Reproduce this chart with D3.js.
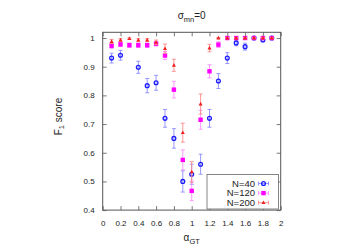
<!DOCTYPE html>
<html><head><meta charset="utf-8">
<script src="https://cdn.jsdelivr.net/npm/d3@7"></script>
<style>body{margin:0;background:#fff}svg{display:block;font-family:"Liberation Sans",Arial,sans-serif}</style>
</head><body><svg id="c" width="350" height="245"></svg>
<script>
const alphas = [0.1,0.2,0.3,0.4,0.5,0.6,0.7,0.8,0.9,1.0,1.1,1.2,1.3,1.4,1.5,1.6,1.7,1.8,1.9];
// N=40 (no visible point at 0.3)
const n40x   = [0.1,0.2,0.4,0.5,0.6,0.7,0.8,0.9,1.0,1.1,1.2,1.3,1.4,1.5,1.6,1.7,1.8,1.9];
const n40y   = [0.93,0.94,0.898,0.834,0.844,0.72,0.65,0.50,0.525,0.56,0.72,0.85,0.93,0.983,0.97,1.0,0.993,1.0];
const n40e   = [0.017,0.017,0.021,0.025,0.026,0.031,0.034,0.037,0.035,0.035,0.031,0.026,0.019,0.01,0.012,0.003,0.005,0.003];
const n120y  = [0.973,0.978,0.975,0.975,0.975,0.98,0.939,0.82,0.575,0.467,0.715,0.884,0.977,1.0,1.0,1.0,1.0,1.0,1.0];
const n120e  = [0.01,0.008,0.008,0.008,0.008,0.008,0.014,0.029,0.035,0.034,0.033,0.023,0.01,0.002,0.002,0.002,0.002,0.002,0.002];
const n200y  = [0.988,0.993,0.998,0.993,0.993,0.985,0.963,0.905,0.67,0.533,0.77,0.965,1.0,1.0,1.0,1.0,1.0,1.0,1.0];
const n200e  = [0.007,0.005,0.003,0.005,0.005,0.008,0.016,0.021,0.033,0.036,0.035,0.013,0.002,0.002,0.002,0.002,0.002,0.002,0.002];
const xTicks = [0,0.2,0.4,0.6,0.8,1,1.2,1.4,1.6,1.8,2];
const yTicks = [0.4,0.5,0.6,0.7,0.8,0.9,1];
const seriesNames = ["N=40","N=120","N=200"];

const svg = d3.select("#c");
const L=102.7,R=280.7,T=32.3,B=210.1;
const x = d3.scaleLinear().domain([0,2]).range([L,R]);
const y = d3.scaleLinear().domain([0.4,1.02]).range([B,T]);
const frame="#555", txt="#222";

// axes
const fmt = d=>String(d);
const gB = svg.append("g").attr("transform",`translate(0,${B})`)
  .call(d3.axisBottom(x).tickValues(xTicks).tickFormat(fmt).tickSizeInner(-4).tickSizeOuter(0).tickPadding(10));
const gT = svg.append("g").attr("transform",`translate(0,${T})`)
  .call(d3.axisTop(x).tickValues(xTicks).tickFormat("").tickSizeInner(-4).tickSizeOuter(0));
const gL = svg.append("g").attr("transform",`translate(${L},0)`)
  .call(d3.axisLeft(y).tickValues(yTicks).tickFormat(fmt).tickSizeInner(-4).tickSizeOuter(0).tickPadding(8));
const gR = svg.append("g").attr("transform",`translate(${R},0)`)
  .call(d3.axisRight(y).tickValues(yTicks).tickFormat("").tickSizeInner(-4).tickSizeOuter(0));
[gB,gT,gL,gR].forEach(g=>{
  g.select(".domain").remove();
  g.selectAll("line").attr("stroke",frame).attr("stroke-width",0.8);
  g.selectAll("text").attr("fill",txt).attr("font-size",8).attr("font-family","Liberation Sans, Arial, sans-serif");
});
svg.append("rect").attr("x",L).attr("y",T).attr("width",R-L).attr("height",B-T)
  .attr("fill","none").attr("stroke",frame).attr("stroke-width",1);

// series
const series = [
  {name:seriesNames[0], xs:n40x, ys:n40y, es:n40e, col:"#1a1aff", ecol:"#8c8cff", shape:"circle"},
  {name:seriesNames[1], xs:alphas, ys:n120y, es:n120e, col:"#ff00ff", ecol:"#ff90ff", shape:"square"},
  {name:seriesNames[2], xs:alphas, ys:n200y, es:n200e, col:"#f02020", ecol:"#ff8a8a", shape:"tri"}
];
function marker(g, s, cx, cy){
  if(s.shape==="circle"){
    g.append("circle").attr("cx",cx).attr("cy",cy).attr("r",1.9).attr("fill","none").attr("stroke",s.col).attr("stroke-width",1.3);
  } else if(s.shape==="square"){
    g.append("rect").attr("x",cx-2.2).attr("y",cy-2.2).attr("width",4.4).attr("height",4.4).attr("fill",s.col);
  } else {
    g.append("path").attr("d",`M${cx},${cy-2.2}L${cx+2},${cy+1.4}L${cx-2},${cy+1.4}Z`).attr("fill",s.col);
  }
}
series.forEach(s=>{
  const g = svg.append("g");
  s.xs.forEach((a,i)=>{
    const cx=x(a), y1=y(s.ys[i]+s.es[i]), y2=y(s.ys[i]-s.es[i]);
    g.append("line").attr("x1",cx).attr("x2",cx).attr("y1",y1).attr("y2",y2).attr("stroke",s.ecol).attr("stroke-width",0.9);
    [y1,y2].forEach(yy=>g.append("line").attr("x1",cx-2).attr("x2",cx+2).attr("y1",yy).attr("y2",yy).attr("stroke",s.ecol).attr("stroke-width",0.9));
  });
  s.xs.forEach((a,i)=>marker(g,s,x(a),y(s.ys[i])));
});

// legend
const lg = svg.append("g");
lg.append("rect").attr("x",207).attr("y",174.5).attr("width",71.5).attr("height",34.5)
  .attr("fill","#fff").attr("stroke","#666").attr("stroke-width",0.8);
series.forEach((s,i)=>{
  const yy = 183.5 + i*9.6;
  lg.append("text").attr("x",255).attr("y",yy+3.3).attr("text-anchor","end")
    .attr("font-size",9.5).attr("fill",txt).text(s.name);
  lg.append("line").attr("x1",258.5).attr("x2",268.5).attr("y1",yy).attr("y2",yy).attr("stroke",s.ecol).attr("stroke-width",0.9);
  [258.5,268.5].forEach(xx=>lg.append("line").attr("x1",xx).attr("x2",xx).attr("y1",yy-2).attr("y2",yy+2).attr("stroke",s.ecol).attr("stroke-width",0.9));
  marker(lg,s,263.5,yy);
});

// title and axis labels
const title = svg.append("text").attr("x",191.7).attr("y",19).attr("text-anchor","middle").attr("font-size",10).attr("fill",txt);
title.append("tspan").text("σ");
title.append("tspan").attr("font-size",7.5).attr("dy",2.5).text("mn");
title.append("tspan").attr("dy",-2.5).text("=0");

const xl = svg.append("text").attr("x",191.7).attr("y",241).attr("text-anchor","middle").attr("font-size",10).attr("fill",txt);
xl.append("tspan").text("α");
xl.append("tspan").attr("font-size",7.5).attr("dy",2.5).text("GT");

const yl = svg.append("text").attr("transform","translate(61.5,116.5) rotate(-90)").attr("text-anchor","middle").attr("font-size",10).attr("fill",txt);
yl.append("tspan").text("F");
yl.append("tspan").attr("font-size",7.5).attr("dy",2.5).text("1");
yl.append("tspan").attr("dy",-2.5).text(" score");
</script></body></html>
